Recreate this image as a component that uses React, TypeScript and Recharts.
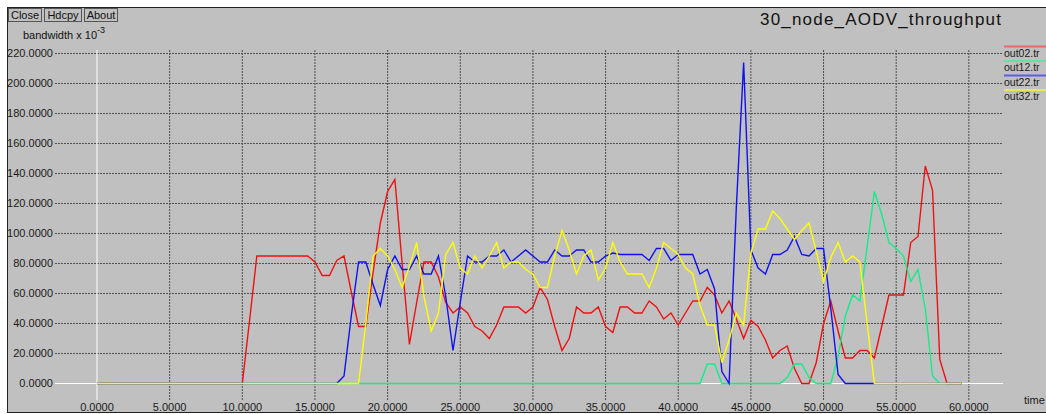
import { CartesianGrid, Line, LineChart, XAxis, YAxis } from "recharts";

// sample times (s)
const times = [
  0, 0.5, 1, 1.5, 2, 2.5, 3, 3.5, 4, 4.5, 5, 5.5, 6, 6.5, 7, 7.5, 8, 8.5, 9, 9.5,
  10, 10.5, 11, 11.5, 12, 12.5, 13, 13.5, 14, 14.5, 15, 15.5, 16, 16.5, 17, 17.5, 18, 18.5, 19, 19.5,
  20, 20.5, 21, 21.5, 22, 22.5, 23, 23.5, 24, 24.5, 25, 25.5, 26, 26.5, 27, 27.5, 28, 28.5, 29, 29.5,
  30, 30.5, 31, 31.5, 32, 32.5, 33, 33.5, 34, 34.5, 35, 35.5, 36, 36.5, 37, 37.5, 38, 38.5, 39, 39.5,
  40, 40.5, 41, 41.5, 42, 42.5, 43, 43.5, 44, 44.5, 45, 45.5, 46, 46.5, 47, 47.5, 48, 48.5, 49, 49.5,
  50, 50.5, 51, 51.5, 52, 52.5, 53, 53.5, 54, 54.5, 55, 55.5, 56, 56.5, 57, 57.5, 58, 58.5, 59, 59.5,
];

const out02 = [
  0, 0, 0, 0, 0, 0, 0, 0, 0, 0, 0, 0, 0, 0, 0, 0, 0, 0, 0, 0,
  0, 42, 85, 85, 85, 85, 85, 85, 85, 85, 81, 72, 72, 82, 85, 61, 38, 38, 74, 107,
  128, 136, 80, 26, 54, 81, 81, 71, 54, 47, 51, 47, 38, 35, 30, 39, 51, 51, 51, 47,
  51, 64, 56, 38, 22, 30, 51, 47, 47, 51, 38, 34, 51, 51, 47, 47, 55, 51, 43, 47,
  39, 47, 55, 55, 64, 59, 47, 55, 43, 30, 42, 38, 29, 17, 22, 25, 10, 0, 0, 14,
  40, 55, 35, 17, 17, 22, 22, 17, 38, 59, 59, 59, 94, 98, 145, 129, 16, 0, 0, 0,
];

const out12 = [
  0, 0, 0, 0, 0, 0, 0, 0, 0, 0, 0, 0, 0, 0, 0, 0, 0, 0, 0, 0,
  0, 0, 0, 0, 0, 0, 0, 0, 0, 0, 0, 0, 0, 0, 0, 0, 0, 0, 0, 0,
  0, 0, 0, 0, 0, 0, 0, 0, 0, 0, 0, 0, 0, 0, 0, 0, 0, 0, 0, 0,
  0, 0, 0, 0, 0, 0, 0, 0, 0, 0, 0, 0, 0, 0, 0, 0, 0, 0, 0, 0,
  0, 0, 0, 0, 13, 13, 0, 0, 0, 0, 0, 0, 0, 0, 0, 4, 13, 13, 4, 0,
  0, 0, 18, 45, 59, 55, 91, 128, 113, 94, 90, 85, 68, 76, 50, 5, 0, 0, 0, 0,
];

const out22 = [
  0, 0, 0, 0, 0, 0, 0, 0, 0, 0, 0, 0, 0, 0, 0, 0, 0, 0, 0, 0,
  0, 0, 0, 0, 0, 0, 0, 0, 0, 0, 0, 0, 0, 0, 5, 45, 81, 81, 66, 52,
  76, 85, 76, 76, 85, 73, 73, 85, 58, 22, 54, 85, 81, 81, 85, 85, 89, 81, 85, 89,
  85, 81, 81, 89, 85, 85, 89, 89, 81, 81, 85, 87, 86, 86, 86, 86, 82, 90, 90, 82,
  86, 86, 86, 73, 76, 63, 8, 0, 118, 214, 89, 77, 73, 86, 86, 89, 98, 86, 85, 90,
  90, 50, 6, 0, 0, 0, 0, 0, 0, 0, 0, 0, 0, 0, 0, 0, 0, 0, 0, 0,
];

const out32 = [
  0, 0, 0, 0, 0, 0, 0, 0, 0, 0, 0, 0, 0, 0, 0, 0, 0, 0, 0, 0,
  0, 0, 0, 0, 0, 0, 0, 0, 0, 0, 0, 0, 0, 0, 0, 0, 0, 40, 85, 90,
  85, 76, 64, 78, 94, 58, 35, 47, 86, 94, 77, 73, 85, 77, 85, 94, 77, 81, 81, 76,
  73, 64, 64, 85, 102, 89, 73, 85, 89, 69, 77, 94, 81, 73, 73, 73, 64, 77, 94, 90,
  86, 77, 73, 52, 39, 39, 14, 29, 47, 39, 87, 103, 103, 115, 110, 103, 96, 102, 107, 88,
  68, 84, 94, 81, 85, 81, 40, 0, 0, 0, 0, 0, 0, 0, 0, 0, 0, 0, 0, 0,
];

const xTicks = [0, 5, 10, 15, 20, 25, 30, 35, 40, 45, 50, 55, 60];
const yTicks = [0, 20, 40, 60, 80, 100, 120, 140, 160, 180, 200, 220];

const series = [
  { key: "out02", name: "out02.tr", color: "#ee1111", legend: "#e46a6a" },
  { key: "out12", name: "out12.tr", color: "#11ee88", legend: "#5ee49e" },
  { key: "out22", name: "out22.tr", color: "#1111f0", legend: "#5c5ce8" },
  { key: "out32", name: "out32.tr", color: "#ffff00", legend: "#e8e85c" },
];

const data = times.map((t, i) => ({
  t,
  out02: out02[i],
  out12: out12[i],
  out22: out22[i],
  out32: out32[i],
}));

const FONT = '"Liberation Sans", Arial, Helvetica, sans-serif';
const GRID = "#505050";

function XTick({ x, y, payload }: any) {
  return (
    <text x={x} y={y} dy={11} textAnchor="middle" fontSize={11} fontFamily={FONT} fill="#1a1a1a">
      {Number(payload.value).toFixed(4)}
    </text>
  );
}

function YTick({ x, y, payload }: any) {
  return (
    <text x={x} y={y} dy={4} textAnchor="end" fontSize={11} fontFamily={FONT} fill="#1a1a1a">
      {Number(payload.value).toFixed(4)}
    </text>
  );
}

const button = {
  position: "absolute" as const,
  top: 8,
  height: 14,
  border: "1px solid #555",
  boxSizing: "border-box" as const,
  fontSize: 11,
  lineHeight: "12px",
  textAlign: "center" as const,
  color: "#111",
};

export default function App() {
  return (
    <div
      style={{
        position: "fixed",
        left: 0,
        top: 0,
        width: 1046,
        height: 414,
        background: "#ffffff",
        overflow: "hidden",
        fontFamily: FONT,
      }}
    >
      <div
        style={{
          position: "absolute",
          left: 7,
          top: 7,
          width: 1039,
          height: 406,
          boxSizing: "border-box",
          background: "#c0c0c0",
          borderLeft: "1px solid #222",
          borderTop: "1px solid #222",
          borderBottom: "1px solid #222",
        }}
      />
      <div style={{ ...button, left: 8, width: 34 }}>Close</div>
      <div style={{ ...button, left: 44, width: 38 }}>Hdcpy</div>
      <div style={{ ...button, left: 84, width: 34 }}>About</div>
      <div style={{ position: "absolute", left: 23, top: 26, fontSize: 11, color: "#111", whiteSpace: "nowrap" }}>
        bandwidth x 10<sup style={{ fontSize: 9, position: "relative", top: -1 }}>-3</sup>
      </div>
      <div
        style={{
          position: "absolute",
          left: 760,
          top: 10,
          fontSize: 17,
          letterSpacing: 1.2,
          color: "#111",
          whiteSpace: "nowrap",
        }}
      >
        30_node_AODV_throughput
      </div>
      <div style={{ position: "absolute", left: 0, top: 0 }}>
        <LineChart width={1046} height={414} data={data} margin={{ top: 50, right: 43, bottom: 0, left: 0 }}>
          {/* dotted grid, then the white zero axes, under the series */}
          <CartesianGrid
            stroke={GRID}
            strokeDasharray="2 1"
            horizontalValues={yTicks.filter((v) => v !== 0)}
            verticalValues={xTicks.filter((v) => v !== 0)}
          />
          <CartesianGrid stroke="#ffffff" horizontalValues={[0]} verticalValues={[0]} />
          <XAxis
            type="number"
            dataKey="t"
            domain={[-2.89, 62.35]}
            ticks={xTicks}
            interval={0}
            height={14}
            tickSize={0}
            tickMargin={0}
            axisLine={false}
            tickLine={false}
            tick={<XTick />}
            allowDataOverflow
          />
          <YAxis
            type="number"
            domain={[-11, 222.33]}
            ticks={yTicks}
            interval={0}
            width={55}
            tickSize={0}
            tickMargin={2}
            axisLine={false}
            tickLine={false}
            tick={<YTick />}
            allowDataOverflow
          />
          {series.map((s) => (
            <Line
              key={s.key}
              dataKey={s.key}
              name={s.name}
              stroke={s.color}
              strokeWidth={1.4}
              dot={false}
              type="linear"
              isAnimationActive={false}
            />
          ))}
        </LineChart>
      </div>
      <svg style={{ position: "absolute", left: 0, top: 0 }} width={1046} height={414}>
        {series.map((s, i) => (
          <g key={s.key}>
            <line x1={1004} x2={1046} y1={46.5 + i * 14.5} y2={46.5 + i * 14.5} stroke={s.legend} strokeWidth={2} />
            <text x={1004} y={56.5 + i * 14.5} fontSize={10.5} fontFamily={FONT} fill="#1a1a1a">
              {s.name}
            </text>
          </g>
        ))}
        <text x={1024} y={404} fontSize={11} fontFamily={FONT} fill="#1a1a1a">
          time
        </text>
      </svg>
    </div>
  );
}
